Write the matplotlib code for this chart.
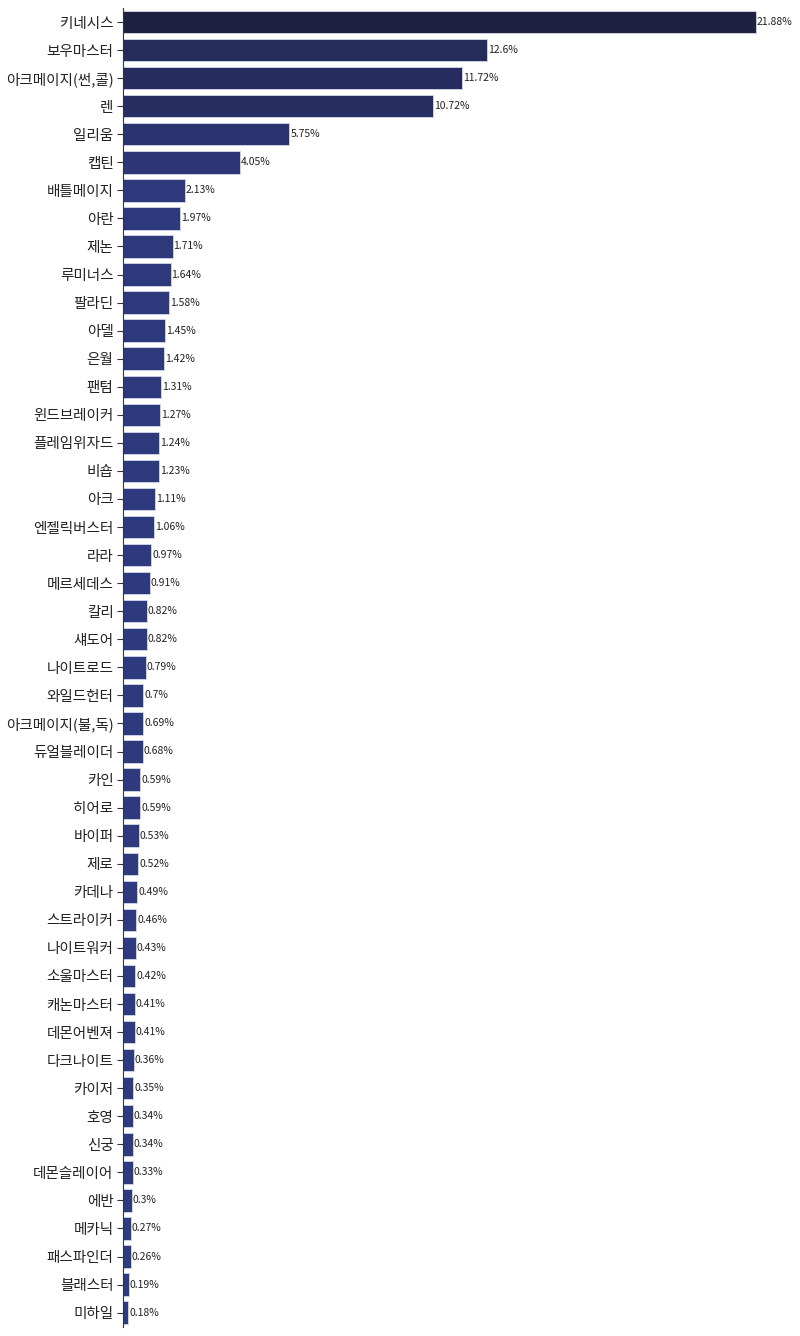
import numpy as np
import matplotlib
matplotlib.use('Agg')
import matplotlib.pyplot as plt
from matplotlib.colors import LinearSegmentedColormap

plt.rcParams['font.family'] = ['Noto Sans CJK KR', 'DejaVu Sans']

jobs = ['키네시스', '보우마스터', '아크메이지(썬,콜)', '렌', '일리움', '캡틴', '배틀메이지', '아란',
        '제논', '루미너스', '팔라딘', '아델', '은월', '팬텀', '윈드브레이커', '플레임위자드',
        '비숍', '아크', '엔젤릭버스터', '라라', '메르세데스', '칼리', '섀도어', '나이트로드',
        '와일드헌터', '아크메이지(불,독)', '듀얼블레이더', '카인', '히어로', '바이퍼', '제로',
        '카데나', '스트라이커', '나이트워커', '소울마스터', '캐논마스터', '데몬어벤져',
        '다크나이트', '카이저', '호영', '신궁', '데몬슬레이어', '에반', '메카닉', '패스파인더',
        '블래스터', '미하일']
share = [21.88, 12.6, 11.72, 10.72, 5.75, 4.05, 2.13, 1.97, 1.71, 1.64, 1.58, 1.45, 1.42,
         1.31, 1.27, 1.24, 1.23, 1.11, 1.06, 0.97, 0.91, 0.82, 0.82, 0.79, 0.7, 0.69, 0.68,
         0.59, 0.59, 0.53, 0.52, 0.49, 0.46, 0.43, 0.42, 0.41, 0.41, 0.36, 0.35, 0.34, 0.34,
         0.33, 0.3, 0.27, 0.26, 0.19, 0.18]

share = np.array(share)
y = np.arange(len(jobs))

cmap = LinearSegmentedColormap.from_list('navy', ['#2f3b80', '#1e2140'])
colors = cmap(share / share.max())

fig = plt.figure(figsize=(8, 13.36), dpi=100)
ax = fig.add_axes([0.154, 0.007, 0.83, 0.987])

bars = ax.barh(y, share, height=0.8, color=colors, edgecolor='#d4d7e8', linewidth=0.6)
for b, v in zip(bars, share):
    ax.text(b.get_width() + 0.03, b.get_y() + b.get_height() / 2, f'{v:g}%',
            va='center', ha='left', fontsize=7.5, color='#222222')

ax.set_yticks(y)
ax.set_yticklabels(jobs, fontsize=10.5, color='#222222')
ax.set_ylim(len(jobs) - 0.5, -0.5)
ax.set_xlim(0, share.max() * 1.05)
ax.set_xticks([])
for s in ['top', 'right', 'bottom']:
    ax.spines[s].set_visible(False)
ax.spines['left'].set_color('#333333')
ax.tick_params(axis='y', length=4, color='#333333', pad=3)

fig.savefig('out.png', dpi=100)
